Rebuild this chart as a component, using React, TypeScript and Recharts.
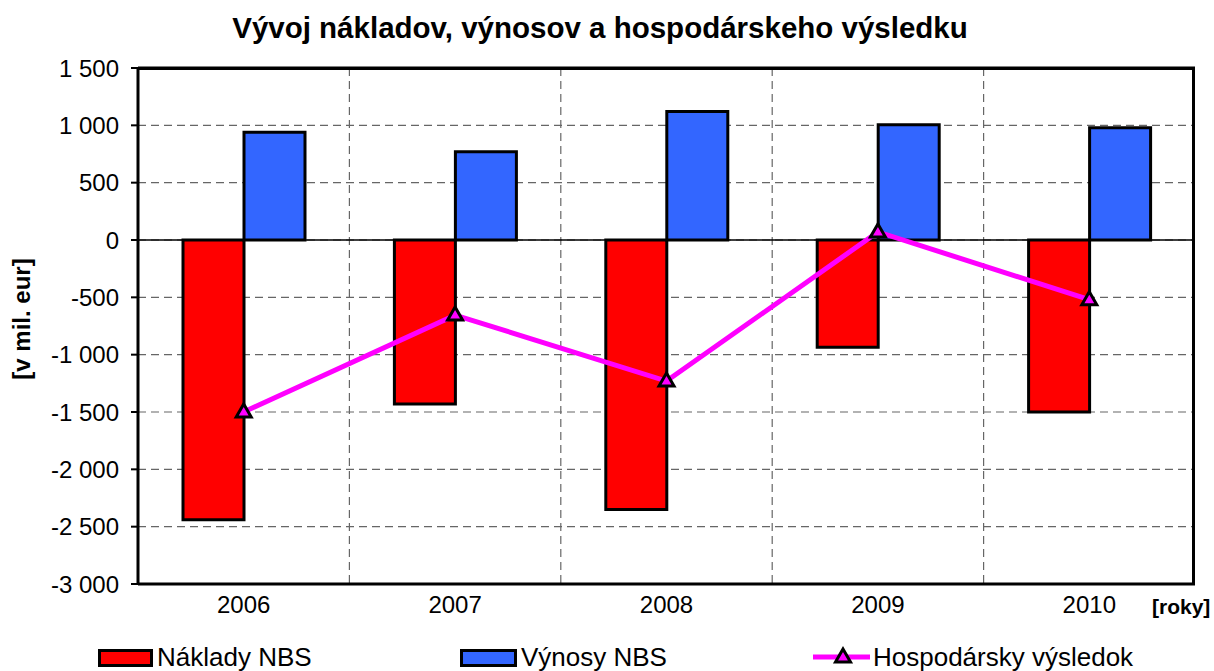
import {
  ComposedChart,
  Bar,
  Line,
  XAxis,
  YAxis,
  CartesianGrid,
  ReferenceLine,
} from "recharts";

const years = ["2006", "2007", "2008", "2009", "2010"];
const naklady = [-2440, -1430, -2350, -935, -1500];
const vynosy = [940, 770, 1120, 1005, 980];
const vysledok = [-1500, -655, -1230, 70, -520];
const yTicks = [-3000, -2500, -2000, -1500, -1000, -500, 0, 500, 1000, 1500];

const data = years.map((year, i) => ({
  year,
  naklady: naklady[i],
  vynosy: vynosy[i],
  vysledok: vysledok[i],
}));

const FONT = '"Liberation Sans", Arial, sans-serif';

const fmt = (v: number) => {
  const abs = Math.abs(v);
  const sign = v < 0 ? "-" : "";
  if (abs >= 1000) {
    return `${sign}${Math.floor(abs / 1000)} ${String(abs % 1000).padStart(3, "0")}`;
  }
  return `${sign}${abs}`;
};

const Triangle = (props: any) => {
  const { cx, cy, index } = props;
  if (cx == null || cy == null) return <g key={`t-${index}`} />;
  return (
    <polygon
      key={`t-${index}`}
      points={`${cx},${cy - 8} ${cx - 7.5},${cy + 5} ${cx + 7.5},${cy + 5}`}
      fill="#FF00FF"
      stroke="#000"
      strokeWidth={3}
    />
  );
};

export default function App() {
  return (
    <div
      style={{
        position: "absolute",
        left: 0,
        top: 0,
        width: 1214,
        height: 671,
        background: "#fff",
        fontFamily: FONT,
      }}
    >
      <div
        style={{
          position: "absolute",
          left: 0,
          width: 1200,
          top: 11,
          textAlign: "center",
          fontWeight: "bold",
          fontSize: 29.5,
          color: "#000",
          lineHeight: "34px",
        }}
      >
        Vývoj nákladov, výnosov a hospodárskeho výsledku
      </div>
      <div
        style={{
          position: "absolute",
          left: 22,
          top: 319,
          transform: "translate(-50%, -50%) rotate(-90deg)",
          fontWeight: "bold",
          fontSize: 24,
          whiteSpace: "nowrap",
        }}
      >
        [v mil. eur]
      </div>
      <div
        style={{
          position: "absolute",
          left: 1152,
          top: 594,
          fontWeight: "bold",
          fontSize: 21,
          lineHeight: "26px",
        }}
      >
        [roky]
      </div>

      <ComposedChart
        width={1214}
        height={671}
        data={data}
        margin={{ top: 68, right: 19, bottom: 0, left: 0 }}
        barGap={0}
        barCategoryGap={0}
      >
        <CartesianGrid
          stroke="#666"
          strokeDasharray="8 5"
          strokeWidth={1.2}
          verticalCoordinatesGenerator={({ offset }: any) =>
            [1, 2, 3, 4].map((i) => offset.left + (i * offset.width) / years.length)
          }
        />
        <XAxis
          dataKey="year"
          height={87}
          tickSize={0}
          tickMargin={12}
          axisLine={{ stroke: "#000", strokeWidth: 3 }}
          tick={{ fill: "#000", fontSize: 24, fontFamily: FONT }}
        />
        <YAxis
          width={138}
          domain={[-3000, 1500]}
          ticks={yTicks}
          interval={0}
          tickFormatter={fmt}
          tickSize={7}
          tickMargin={12}
          axisLine={{ stroke: "#000", strokeWidth: 3 }}
          tickLine={{ stroke: "#000", strokeWidth: 2 }}
          tick={{ fill: "#000", fontSize: 24, fontFamily: FONT }}
        />
        <ReferenceLine y={0} stroke="#000" strokeWidth={1.5} />
        <ReferenceLine y={1500} stroke="#000" strokeWidth={3} />
        <Bar
          dataKey="naklady"
          name="Náklady NBS"
          fill="#FF0000"
          stroke="#000"
          strokeWidth={3}
          barSize={61}
          isAnimationActive={false}
        />
        <Bar
          dataKey="vynosy"
          name="Výnosy NBS"
          fill="#3366FF"
          stroke="#000"
          strokeWidth={3}
          barSize={61}
          isAnimationActive={false}
        />
        <Line
          dataKey="vysledok"
          name="Hospodársky výsledok"
          stroke="#FF00FF"
          strokeWidth={5}
          dot={Triangle}
          activeDot={false}
          isAnimationActive={false}
        />
      </ComposedChart>

      {/* top and right edges of the plot frame */}
      <div
        style={{
          position: "absolute",
          left: 137,
          top: 66.5,
          width: 1195 - 137,
          height: 584 - 66.5,
          boxSizing: "border-box",
          borderTop: "3px solid #000",
          borderRight: "3px solid #000",
          pointerEvents: "none",
        }}
      />

      <div style={{ position: "absolute", left: 98, top: 649, width: 55, height: 18, boxSizing: "border-box", border: "3px solid #000", background: "#FF0000" }} />
      <div style={{ position: "absolute", left: 157, top: 641, fontSize: 26, lineHeight: "32px" }}>Náklady NBS</div>

      <div style={{ position: "absolute", left: 460, top: 649, width: 57, height: 18, boxSizing: "border-box", border: "3px solid #000", background: "#3366FF" }} />
      <div style={{ position: "absolute", left: 521, top: 641, fontSize: 26, lineHeight: "32px" }}>Výnosy NBS</div>

      <svg style={{ position: "absolute", left: 810, top: 645 }} width={64} height={26}>
        <line x1={3} y1={12} x2={60} y2={12} stroke="#FF00FF" strokeWidth={5} />
        <polygon points="33,4 25.5,17 40.5,17" fill="#FF00FF" stroke="#000" strokeWidth={3} />
      </svg>
      <div style={{ position: "absolute", left: 873, top: 641, fontSize: 26, lineHeight: "32px" }}>Hospodársky výsledok</div>
    </div>
  );
}
